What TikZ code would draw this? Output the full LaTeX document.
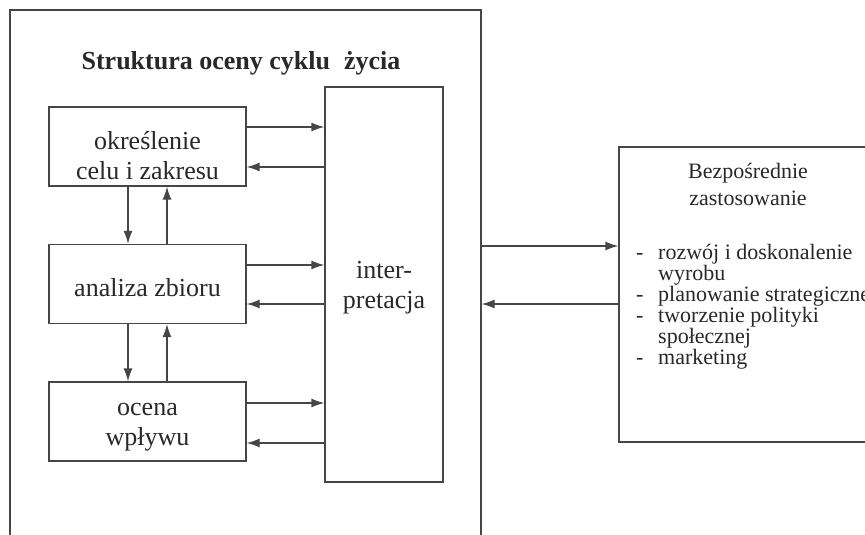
\documentclass[tikz,border=0pt]{standalone}
\usepackage{fontspec}
\setmainfont{Liberation Serif}
\usetikzlibrary{arrows.meta}

\definecolor{lineclr}{RGB}{70,70,70}
\definecolor{textclr}{RGB}{40,40,40}
\tikzset{
  box/.style={draw=lineclr, line width=1.3pt, inner sep=0pt, text=textclr},
  stage/.style={box, minimum width=197pt, minimum height=79pt, align=center,
    font=\fontsize{26}{30}\selectfont},
  arr/.style={draw=lineclr, line width=1.3pt, -{Latex[length=13pt,width=9pt]}},
}

\begin{document}
\begin{tikzpicture}[x=1pt, y=-1pt]
\useasboundingbox (0,0) rectangle (865,535);
% frame
\node[box, minimum width=471pt, minimum height=560pt] (lca) at (245.5,290) {};
\node[text=textclr, font=\bfseries\fontsize{26}{30}\selectfont] (title) at (241,63) {Struktura oceny cyklu\hspace{14pt}życia};
% stages
\node[stage, text height=66pt, text depth=1pt] (goal) at (147.5,146.5) {określenie\\celu i zakresu};
\node[stage, text height=26pt, text depth=1pt] (inv) at (147.5,284) {analiza zbioru};
\node[stage, text height=49pt, text depth=1pt] (imp) at (147.5,421.5) {ocena\\wpływu};
\node[stage, minimum width=118pt, minimum height=395pt, text height=48pt, text depth=1pt] (interp) at (384,284.5) {inter-\\pretacja};
% applications
\node[box, minimum width=261pt, minimum height=295pt] (app) at (749.5,294.5) {};
\node[align=center, text=textclr, font=\fontsize{22}{27}\selectfont, anchor=base] (apphead) at (748,205) {Bezpośrednie\\zastosowanie};
\node[align=left, text=textclr, font=\fontsize{22}{21}\selectfont, anchor=north west, inner sep=0pt] (applist) at (636,244)
  {\makebox[22pt][l]{-}rozwój i doskonalenie\\\hspace*{22pt}wyrobu\\
   \makebox[22pt][l]{-}planowanie strategiczne\\
   \makebox[22pt][l]{-}tworzenie polityki\\\hspace*{22pt}społecznej\\
   \makebox[22pt][l]{-}marketing};
% stage <-> interpretation
\draw[arr] (goal.east |- 0,127) -- (interp.west |- 0,127);
\draw[arr] (interp.west |- 0,167) -- (goal.east |- 0,167);
\draw[arr] (inv.east |- 0,265) -- (interp.west |- 0,265);
\draw[arr] (interp.west |- 0,304) -- (inv.east |- 0,304);
\draw[arr] (imp.east |- 0,403) -- (interp.west |- 0,403);
\draw[arr] (interp.west |- 0,443) -- (imp.east |- 0,443);
% stage <-> stage
\draw[arr] (goal.south -| 128,0) -- (inv.north -| 128,0);
\draw[arr] (inv.north -| 167,0) -- (goal.south -| 167,0);
\draw[arr] (inv.south -| 128,0) -- (imp.north -| 128,0);
\draw[arr] (imp.north -| 167,0) -- (inv.south -| 167,0);
% frame <-> applications
\draw[arr] (lca.east |- 0,246) -- (app.west |- 0,246);
\draw[arr] (app.west |- 0,304) -- (lca.east |- 0,304);
\end{tikzpicture}
\end{document}
